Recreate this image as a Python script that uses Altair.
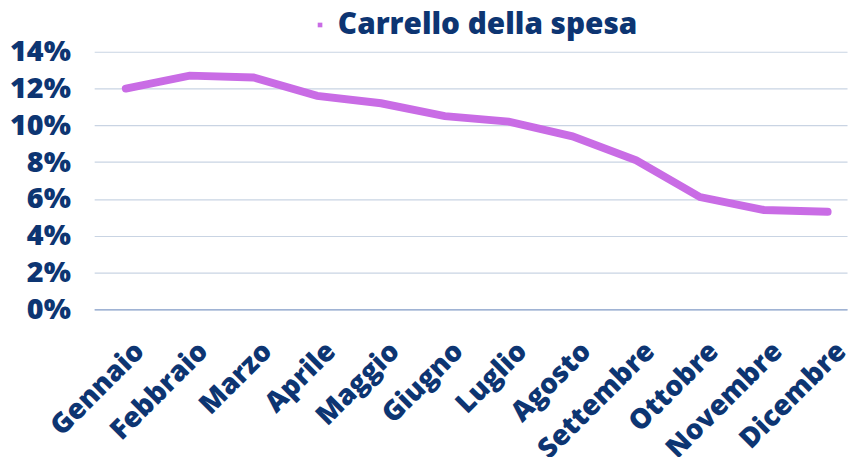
import altair as alt
import pandas as pd

mesi = ["Gennaio", "Febbraio", "Marzo", "Aprile", "Maggio", "Giugno",
        "Luglio", "Agosto", "Settembre", "Ottobre", "Novembre", "Dicembre"]
valori = [12.0, 12.7, 12.6, 11.6, 11.2, 10.5, 10.2, 9.4, 8.1, 6.1, 5.4, 5.3]
serie = "Carrello della spesa"

df = pd.DataFrame({"mese": mesi, "valore": [v / 100 for v in valori], "serie": serie})

NAVY = "#0d3572"
FONT = "Open Sans"
W = 800

chart = alt.Chart(df).mark_line(strokeCap="round", strokeJoin="miter").encode(
    x=alt.X("mese:O", sort=mesi,
            scale=alt.Scale(type="point", padding=0.4, align=0.62),
            axis=alt.Axis(title=None, labelAngle=-45, labelAlign="right", labelBaseline="middle",
                          labelFont=FONT, labelFontWeight=W, labelFontSize=28,
                          labelColor=NAVY, labelPadding=38, labelOffset=14, ticks=False,
                          domainColor="#8ea5cc", domainWidth=1.3, grid=False)),
    y=alt.Y("valore:Q", scale=alt.Scale(domain=[0, 0.14], nice=False),
            axis=alt.Axis(title=None, format=".0%", values=[0, 0.02, 0.04, 0.06, 0.08, 0.10, 0.12, 0.14],
                          labelFont=FONT, labelFontWeight=W, labelFontSize=29,
                          labelColor=NAVY, labelPadding=24, ticks=False, domain=False,
                          gridColor="#c9d4e3", gridWidth=1.2)),
    strokeWidth=alt.value(8),
    color=alt.Color("serie:N", scale=alt.Scale(range=["#c96ce5"]),
                    legend=alt.Legend(title=None, orient="none", legendX=213, legendY=-42,
                                      symbolType="square", symbolSize=22, symbolStrokeWidth=0,
                                      symbolFillColor="#c96ce5",
                                      labelFont=FONT, labelFontWeight=W, labelFontSize=30,
                                      labelColor=NAVY, labelOffset=3, labelLimit=500)),
).properties(
    width=760, height=260,
    autosize=alt.AutoSizeParams(type="none"),
    padding={"left": 87, "top": 42, "right": 2, "bottom": 150},
).configure_view(stroke=None)

chart.save("out.html", embed_options={"renderer": "svg", "actions": False})
